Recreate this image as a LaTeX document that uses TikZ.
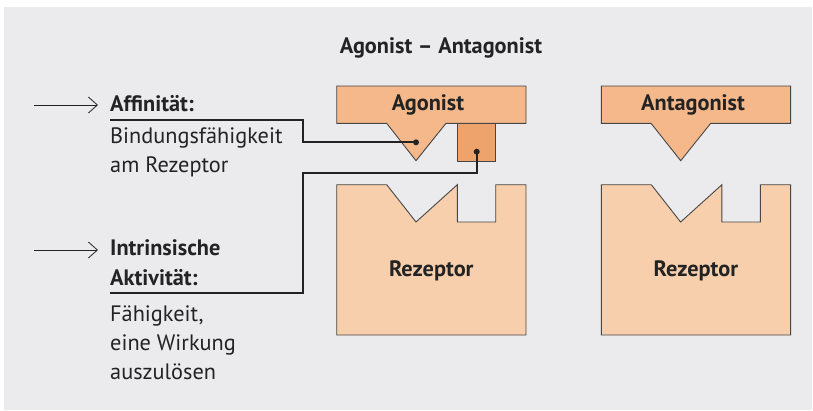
\documentclass[tikz,border=0pt]{standalone}
\usepackage{fontspec}
\setmainfont{PT Sans}
\usetikzlibrary{arrows.meta}
\definecolor{bgGray}{RGB}{235,235,237}
\definecolor{agoOrange}{RGB}{244,184,138}
\definecolor{agoDark}{RGB}{239,163,108}
\definecolor{rezOrange}{RGB}{248,207,173}
\definecolor{edgeGray}{RGB}{70,70,70}
\definecolor{inkDark}{RGB}{35,35,35}

\begin{document}
\begin{tikzpicture}[x=1pt,y=-1pt,
  ligand/.style={fill=agoOrange,draw=edgeGray,line width=0.9pt},
  receptor/.style={fill=rezOrange,draw=edgeGray,line width=0.9pt},
  label/.style={font=\fontsize{22.3}{22.3}\selectfont\bfseries,text=inkDark,inner sep=0pt},
  term/.style={font=\fontsize{22.3}{29.5}\selectfont\bfseries,text=inkDark,inner sep=0pt,align=left,anchor=base west},
  note/.style={font=\fontsize{22.3}{29}\selectfont,text=inkDark,inner sep=0pt,align=left,anchor=base west},
  link/.style={draw=inkDark,line width=1.8pt},
  pointer/.style={draw=inkDark,line width=0.8pt,-{Straight Barb[length=9pt,width=16pt]}},
  dot/.style={circle,fill=inkDark,inner sep=0pt,minimum size=6pt}]
\useasboundingbox (0,0) rectangle (813,410);
\fill[bgGray] (4,7) rectangle (812,410);

% title
\node[label] (title) at (441,48) {Agonist – Antagonist};

% agonist
\draw[ligand] (336.7,86) -- (526,86) -- (526,123.3) -- (446,123.3) -- (416,160.7)
  -- (386.7,123.3) -- (336.7,123.3) -- cycle;
\draw[ligand,fill=agoDark] (457.3,123.3) rectangle (495.7,161);
\node[label] (agonist) at (428,104.5) {Agonist};

% antagonist
\draw[ligand] (601.3,86) -- (790.6,86) -- (790.6,123.3) -- (710.7,123.3) -- (680.7,160.7)
  -- (651,123.3) -- (601.3,123.3) -- cycle;
\node[label] (antagonist) at (693,104.5) {Antagonist};

% receptors
\foreach \dx/\name in {0/rezA,264.6/rezB}{
  \draw[receptor,xshift=\dx] (336.7,184.7) -- (386.7,184.7) -- (416,222) -- (457.3,184.7)
    -- (457.3,222) -- (495.7,222) -- (495.7,184.7) -- (526,184.7) -- (526,335)
    -- (336.7,335) -- cycle;
  \node[label,xshift=\dx] (\name) at (431.3,271) {Rezeptor};
}

% left side texts (anchored at the baseline of the last line)
\node[term] (affin) at (110,111.5) {Affinität:};
\node[note] (affinText) at (110,172) {Bindungsfähigkeit\\am Rezeptor};
\node[term] (intrin) at (110,285) {Intrinsische\\Aktivität:};
\node[note] (intrinText) at (110,379) {Fähigkeit,\\eine Wirkung\\auszulösen};

\coordinate (arrA) at (34,105);
\coordinate (arrB) at (34,250);
\draw[pointer] (arrA) -- ++(64,0);
\draw[pointer] (arrB) -- ++(64,0);

% connectors
\node[dot] (dotA) at (416,142.3) {};
\node[dot] (dotB) at (476.7,151.7) {};
\coordinate (ulA) at (110,120);
\coordinate (ulB) at (110,293.3);
\draw[link] (ulA) -- (302.7,120) -- (302.7,142.3) -- (dotA.center);
\draw[link] (ulB) -- (302.7,293.3) -- (302.7,172.7) -- (476.7,172.7) -- (dotB.center);
\end{tikzpicture}
\end{document}
